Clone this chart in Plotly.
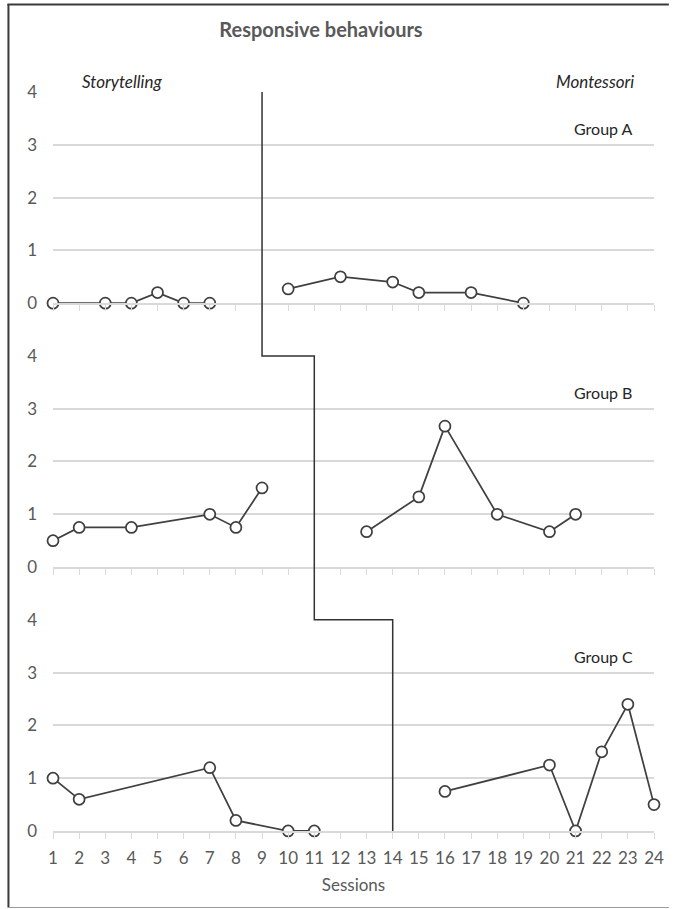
import plotly.graph_objects as go

# ---------------- data ----------------
groups = ["Group A", "Group B", "Group C"]

a_story_x = [1, 3, 4, 5, 6, 7]
a_story_y = [0, 0, 0, 0.2, 0, 0]
a_mont_x = [10, 12, 14, 15, 17, 19]
a_mont_y = [0.27, 0.5, 0.4, 0.2, 0.2, 0]

b_story_x = [1, 2, 4, 7, 8, 9]
b_story_y = [0.5, 0.75, 0.75, 1.0, 0.75, 1.5]
b_mont_x = [13, 15, 16, 18, 20, 21]
b_mont_y = [0.67, 1.33, 2.67, 1.0, 0.67, 1.0]

c_story_x = [1, 2, 7, 8, 10, 11]
c_story_y = [1.0, 0.6, 1.2, 0.2, 0, 0]
c_mont_x = [16, 20, 21, 22, 23, 24]
c_mont_y = [0.75, 1.25, 0, 1.5, 2.4, 0.5]

phase_change = [9, 11, 14]   # phase-change session per group
x_ticks = list(range(1, 25))
y_ticks = [0, 1, 2, 3, 4]

series = [
    (a_story_x, a_story_y, a_mont_x, a_mont_y),
    (b_story_x, b_story_y, b_mont_x, b_mont_y),
    (c_story_x, c_story_y, c_mont_x, c_mont_y),
]

# ---------------- layout constants ----------------
W, H = 676, 909
ML, MR, MT, MB = 53, 16, 92, 78
YMAX = 4
GAP = 1            # gap between panels, in value units
TOTAL = 3 * YMAX + 2 * GAP
FONT = "Lato"
LINE_COL = "#404040"
TICK_COL = "#595959"
GRID_COL = "#d9d9d9"

fig = go.Figure()

offsets = [(2 - i) * (YMAX + GAP) for i in range(3)]
domains = [[off / TOTAL, (off + YMAX) / TOTAL] for off in offsets]

for i, (sx, sy, mx, my) in enumerate(series):
    xa = "x" if i == 0 else f"x{i+1}"
    ya = "y" if i == 0 else f"y{i+1}"
    for xs, ys in ((sx, sy), (mx, my)):
        fig.add_trace(go.Scatter(
            x=xs, y=ys, xaxis=xa, yaxis=ya, mode="lines+markers",
            line=dict(color=LINE_COL, width=1.75),
            marker=dict(symbol="circle", size=11, color="white",
                        line=dict(color=LINE_COL, width=1.75)),
            cliponaxis=False, showlegend=False, hoverinfo="x+y"))

# phase-change line drawn on a full-height overlay axis
px_, py_ = [], []
for i, pc in enumerate(phase_change):
    top = offsets[i] + YMAX
    px_ += [pc, pc]
    nxt = offsets[i + 1] + YMAX if i < 2 else offsets[i]
    py_ += [top, nxt]
fig.add_trace(go.Scatter(x=px_, y=py_, xaxis="x3", yaxis="y4", mode="lines",
                         line=dict(color="#333333", width=1.5),
                         cliponaxis=False, showlegend=False, hoverinfo="skip"))

layout = dict(
    width=W, height=H,
    margin=dict(l=ML, r=MR, t=MT, b=MB),
    paper_bgcolor="white", plot_bgcolor="rgba(0,0,0,0)",
    font=dict(family=FONT, color=TICK_COL, size=17),
    title=dict(text="<b>Responsive behaviours</b>", xref="container", yref="container",
               x=321 / W, y=1 - 30 / H, xanchor="center", yanchor="middle",
               font=dict(family=FONT, size=20, color="#595959")),
)

for i in range(3):
    xk = "xaxis" if i == 0 else f"xaxis{i+1}"
    yk = "yaxis" if i == 0 else f"yaxis{i+1}"
    ya = "y" if i == 0 else f"y{i+1}"
    xa = "x" if i == 0 else f"x{i+1}"
    layout[xk] = dict(
        domain=[0, 1], anchor=ya, range=[1, 24], tickvals=x_ticks,
        showgrid=False, zeroline=False, showline=True, linecolor=GRID_COL, linewidth=1.5,
        ticks="outside", ticklen=6, tickcolor=GRID_COL, tickwidth=1,
        showticklabels=(i == 2), tickfont=dict(size=17, color=TICK_COL),
        ticklabelstandoff=5, ticklabeloverflow="allow",
    )
    if i == 2:
        layout[xk]["title"] = dict(text="Sessions", font=dict(size=17, color=TICK_COL), standoff=12)
    layout[yk] = dict(
        domain=domains[i], anchor=xa, range=[0, YMAX], tickvals=y_ticks,
        showgrid=True, gridcolor=GRID_COL, gridwidth=1.5, zeroline=False,
        showline=False, ticks="", tickfont=dict(size=17, color=TICK_COL),
        ticklabelstandoff=15,
    )

layout["yaxis4"] = dict(domain=[0, 1], anchor="x3", range=[0, TOTAL], visible=False,
                        showgrid=False)

fig.update_layout(**layout)

# group labels
for i, g in enumerate(groups):
    xa = "x" if i == 0 else f"x{i+1}"
    ya = "y" if i == 0 else f"y{i+1}"
    fig.add_annotation(text=g, x=22.05, y=3.3, xref=xa, yref=ya, showarrow=False,
                       font=dict(size=16, color="#262626", family=FONT),
                       xanchor="center", yanchor="middle")

# phase labels just above the top panel (paper y derived from the value scale)
label_y = 1 + 0.2 / TOTAL
fig.add_annotation(text="<i>Storytelling</i>", x=2.05, y=label_y, xref="x", yref="paper",
                   showarrow=False, xanchor="left", yanchor="middle",
                   font=dict(size=17, color="#262626", family=FONT))
fig.add_annotation(text="<i>Montessori</i>", x=23.3, y=label_y, xref="x", yref="paper",
                   showarrow=False, xanchor="right", yanchor="middle",
                   font=dict(size=17, color="#262626", family=FONT))

# outer frame (as in the reference image)
def to_px_x(p):
    return (p - ML) / (W - ML - MR)

def to_px_y(p):
    return (H - MB - p) / (H - MT - MB)

fig.add_shape(type="line", xref="paper", yref="paper",
              x0=to_px_x(7), x1=to_px_x(W - 1), y0=to_px_y(4.5), y1=to_px_y(4.5),
              line=dict(color="#3a3a3a", width=2))
fig.add_shape(type="line", xref="paper", yref="paper",
              x0=to_px_x(8), x1=to_px_x(8), y0=to_px_y(4), y1=to_px_y(907),
              line=dict(color="#3a3a3a", width=2))
fig.add_shape(type="line", xref="paper", yref="paper",
              x0=to_px_x(7), x1=to_px_x(W - 1), y0=to_px_y(907.5), y1=to_px_y(907.5),
              line=dict(color="#9a9a9a", width=1))

fig.write_html("out.html", config={"displayModeBar": False},
               post_script="document.body.style.margin='0px';"
                           "document.body.style.overflow='hidden';"
                           "document.documentElement.style.overflow='hidden';")
